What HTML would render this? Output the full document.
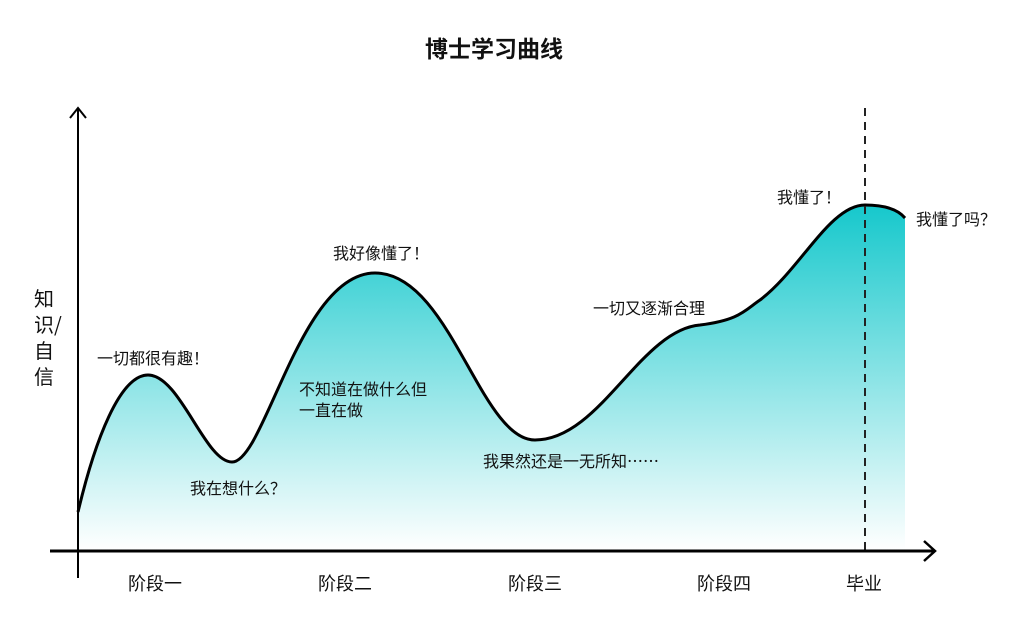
<!DOCTYPE html>
<html><head><meta charset="utf-8"><style>
html,body{margin:0;padding:0;background:#fff}
svg{display:block}
text{font-family:"Noto Sans CJK SC","Liberation Sans",sans-serif;fill:#111}
</style></head><body>
<svg width="1024" height="620" viewBox="0 0 1024 620" xmlns="http://www.w3.org/2000/svg">
<defs>
<linearGradient id="g" x1="0" y1="205" x2="0" y2="550" gradientUnits="userSpaceOnUse">
<stop offset="0" stop-color="#16c8cc"/>
<stop offset="1" stop-color="#ffffff"/>
</linearGradient>
</defs>
<text x="494" y="57" font-size="23" font-weight="bold" text-anchor="middle">博士学习曲线</text>
<path d="M78,512 C95,440 120,375 148,375 C180,375 205,462 232,462 C265,462 300,273 375,273 C450,273 480,440 535,440 C600,440 640,330 700,325 C740,320 745,310 760,300 C800,270 830,205 865,205 C890,205 900,212 905,218 L905,550 L78,550 Z" fill="url(#g)"/>
<path d="M78,512 C95,440 120,375 148,375 C180,375 205,462 232,462 C265,462 300,273 375,273 C450,273 480,440 535,440 C600,440 640,330 700,325 C740,320 745,310 760,300 C800,270 830,205 865,205 C890,205 900,212 905,218" fill="none" stroke="#000" stroke-width="3"/>
<line x1="865" y1="108" x2="865" y2="550" stroke="#222" stroke-width="2" stroke-dasharray="8,6"/>
<line x1="78" y1="108" x2="78" y2="578" stroke="#000" stroke-width="2"/>
<polyline points="70,118 78,108 86,118" fill="none" stroke="#000" stroke-width="2"/>
<line x1="50" y1="551" x2="935" y2="551" stroke="#000" stroke-width="3"/>
<polyline points="924,541 935,551 924,561" fill="none" stroke="#000" stroke-width="2.5"/>
<text font-size="20" x="34" y="306">知</text>
<text font-size="20" x="34" y="332">识/</text>
<text font-size="20" x="34" y="358">自</text>
<text font-size="20" x="34" y="384">信</text>
<text font-size="16" x="97" y="364">一切都很有趣！</text>
<text font-size="16" x="190" y="494">我在想什么？</text>
<text font-size="16" x="333" y="259">我好像懂了！</text>
<text font-size="16" x="299" y="395">不知道在做什么但</text>
<text font-size="16" x="299" y="416">一直在做</text>
<text font-size="16" x="483" y="467">我果然还是一无所知……</text>
<text font-size="16" x="593" y="314">一切又逐渐合理</text>
<text font-size="16" x="777" y="203">我懂了！</text>
<text font-size="16" x="916" y="225">我懂了吗？</text>
<text font-size="18" x="155" y="590" text-anchor="middle">阶段一</text>
<text font-size="18" x="345" y="590" text-anchor="middle">阶段二</text>
<text font-size="18" x="535" y="590" text-anchor="middle">阶段三</text>
<text font-size="18" x="724" y="590" text-anchor="middle">阶段四</text>
<text font-size="18" x="864" y="590" text-anchor="middle">毕业</text>
</svg>
</body></html>
